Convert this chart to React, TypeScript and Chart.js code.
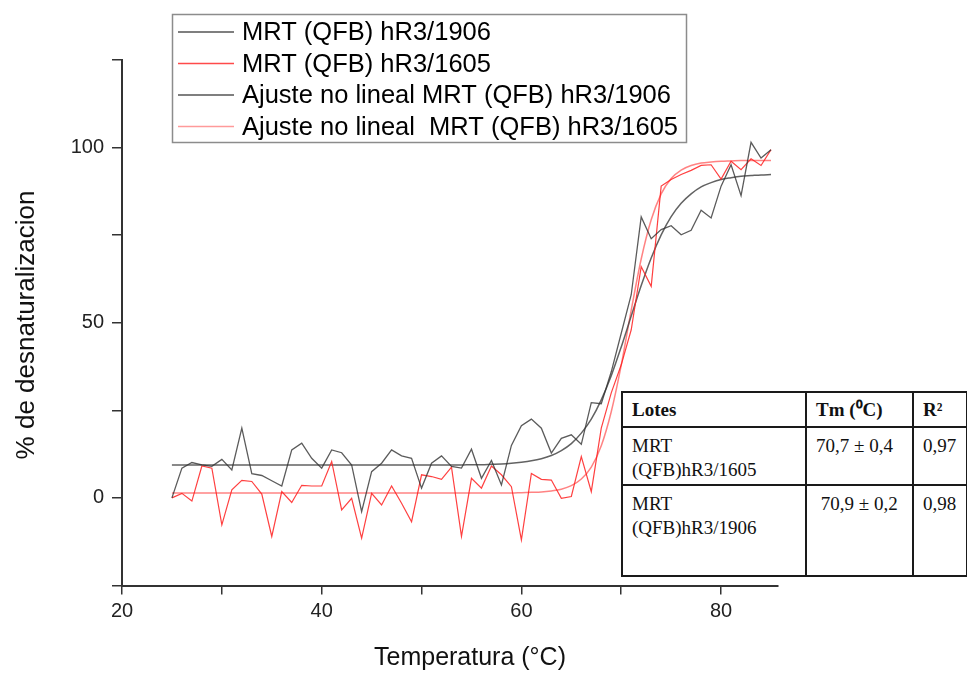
import React, { useEffect, useRef } from "react";
import { Chart, registerables } from "chart.js";

Chart.register(...registerables);

const TEMPS = [
  25, 26, 27, 28, 29, 30, 31, 32, 33, 34, 35, 36, 37, 38, 39, 40, 41, 42, 43, 44, 45,
  46, 47, 48, 49, 50, 51, 52, 53, 54, 55, 56, 57, 58, 59, 60, 61, 62, 63, 64, 65,
  66, 67, 68, 69, 70, 71, 72, 73, 74, 75, 76, 77, 78, 79, 80, 81, 82, 83, 84, 85,
];

const RAW_1906 = [
  0, 8.5, 10.1, 9.4, 9, 11, 8, 19.9, 6.9, 6.4, 4.9, 3.4, 13.7, 15.6, 11.3, 8.5, 13.7, 12.9, 9.4, -3.9, 7.5,
  9.9, 13.7, 12, 11.3, 2.8, 9.9, 12, 9, 8.5, 13.9, 5.6, 10.7, 3.7, 15, 20.6, 22.5, 19.9, 12.8, 17, 18,
  15.3, 27.2, 26.9, 36, 47, 58, 80.2, 74, 76.6, 77.7, 75.1, 76.4, 82.1, 79.9, 89, 95.1, 86.3, 101.5, 97, 99.4,
];

const RAW_1605 = [
  0, 1.3, -0.9, 9.1, 8.5, -7.7, 2.3, 5, 4.7, 1.1, -11, 1.8, -1.3, 3.6, 3.4, 3.4, 10.4, -3.4, -0.1, -11.5, 1.3,
  -2, 3.4, -1.5, -6.8, 6.6, 6.1, 5.3, 8.8, -11, 5.6, 2.8, 9.1, 6.6, 3.2, -12, 7, 5.3, 5.1, -0.1, 0.4,
  11.8, 1.8, 19.9, 30, 38, 48, 66, 60.4, 89, 90.9, 92.3, 93.5, 94.9, 95.1, 91, 96.1, 93.7, 96.8, 94.9, 99.4,
];

const FIT_1906 = [
  9.4, 9.4, 9.4, 9.4, 9.4, 9.4, 9.4, 9.4, 9.4, 9.4, 9.4, 9.4, 9.4, 9.4, 9.4, 9.4, 9.4, 9.4, 9.4, 9.4, 9.4,
  9.4, 9.4, 9.4, 9.4, 9.4, 9.4, 9.4, 9.4, 9.4, 9.5, 9.5, 9.6, 9.7, 9.9, 10.2, 10.6, 11.2, 12.1, 13.5, 15.5,
  18.5, 22.5, 28.0, 34.9, 43.1, 51.9, 60.6, 68.5, 75.1, 80.3, 84.1, 86.8, 88.8, 90.0, 90.9, 91.4, 91.8, 92.0, 92.2, 92.3,
];

const FIT_1605 = [
  1.4, 1.4, 1.4, 1.4, 1.4, 1.4, 1.4, 1.4, 1.4, 1.4, 1.4, 1.4, 1.4, 1.4, 1.4, 1.4, 1.4, 1.4, 1.4, 1.4, 1.4,
  1.4, 1.4, 1.4, 1.4, 1.4, 1.4, 1.4, 1.4, 1.4, 1.4, 1.4, 1.4, 1.4, 1.4, 1.5, 1.6, 1.7, 2.0, 2.5, 3.5,
  5.4, 8.8, 14.9, 24.6, 37.9, 53.6, 68.2, 79.4, 86.8, 91.2, 93.6, 94.9, 95.6, 95.9, 96.1, 96.2, 96.3, 96.3, 96.3, 96.3,
];

const SERIES_LABELS = [
  "MRT (QFB) hR3/1906",
  "MRT (QFB) hR3/1605",
  "Ajuste no lineal MRT (QFB) hR3/1906",
  "Ajuste no lineal  MRT (QFB) hR3/1605",
];

const X_TICKS = [20, 30, 40, 50, 60, 70, 80];
const X_LABELED = [20, 40, 60, 80];
const Y_TICKS = [-25, 0, 25, 50, 75, 100, 125];
const Y_LABELED = [0, 50, 100];

const X_TITLE = "Temperatura (°C)";
const Y_TITLE = "% de desnaturalizacion";

const TABLE_HEAD = ["Lotes", "Tm (⁰C)", "R²"];
const TABLE_LOTES = ["MRT (QFB)hR3/1605", "MRT (QFB)hR3/1906"];
const TABLE_TM = ["70,7 ± 0,4", "\u00a070,9 ± 0,2"];
const TABLE_R2 = ["0,97", "0,98"];

const SANS = '"Liberation Sans", Arial, Helvetica, sans-serif';
const SERIF = '"Liberation Serif", "Times New Roman", Times, serif';

const toPoints = (vals: number[]) => TEMPS.map((t, i) => ({ x: t, y: vals[i] }));

const legendPlugin = {
  id: "boxLegend",
  afterDraw(chart: any) {
    const ctx = chart.ctx as CanvasRenderingContext2D;
    ctx.save();
    ctx.fillStyle = "#ffffff";
    ctx.fillRect(172, 14, 514, 128);
    ctx.strokeStyle = "#8c8c8c";
    ctx.lineWidth = 1.5;
    ctx.strokeRect(172.5, 14.5, 514, 128);
    chart.data.datasets.forEach((ds: any, i: number) => {
      const y = 32 + i * 31.5;
      ctx.strokeStyle = ds.legendColor || ds.borderColor;
      ctx.lineWidth = 1.5;
      ctx.beginPath();
      ctx.moveTo(178, y);
      ctx.lineTo(234, y);
      ctx.stroke();
      ctx.fillStyle = "#000";
      ctx.font = `25.5px ${SANS}`;
      ctx.textBaseline = "middle";
      ctx.textAlign = "left";
      ctx.fillText(ds.label, 242, y + 1);
    });
    ctx.restore();
  },
};

const titlesPlugin = {
  id: "axisTitles",
  afterDraw(chart: any) {
    const ctx = chart.ctx as CanvasRenderingContext2D;
    ctx.save();
    ctx.fillStyle = "#111";
    ctx.textAlign = "center";
    ctx.textBaseline = "middle";
    ctx.font = `25px ${SANS}`;
    ctx.fillText(X_TITLE, 470, 658);
    ctx.font = `26px ${SANS}`;
    ctx.translate(27, 325);
    ctx.rotate(-Math.PI / 2);
    ctx.fillText(Y_TITLE, 0, 0);
    ctx.restore();
  },
};

function ChartCanvas() {
  const ref = useRef<HTMLCanvasElement | null>(null);
  useEffect(() => {
    if (!ref.current) return;
    const chart = new Chart(ref.current, {
      type: "line",
      data: {
        datasets: [
          {
            label: SERIES_LABELS[0],
            data: toPoints(RAW_1906),
            borderColor: "rgba(50,50,50,0.8)",
            legendColor: "#555",
            borderWidth: 1.3,
            pointRadius: 0,
            tension: 0,
          } as any,
          {
            label: SERIES_LABELS[1],
            data: toPoints(RAW_1605),
            borderColor: "rgba(255,30,30,0.85)",
            legendColor: "#ff4a4a",
            borderWidth: 1.2,
            pointRadius: 0,
            tension: 0,
          },
          {
            label: SERIES_LABELS[2],
            data: toPoints(FIT_1906),
            borderColor: "rgba(70,70,70,0.85)",
            legendColor: "#555",
            borderWidth: 1.5,
            pointRadius: 0,
            cubicInterpolationMode: "monotone",
          },
          {
            label: SERIES_LABELS[3],
            data: toPoints(FIT_1605),
            borderColor: "rgba(255,90,90,0.75)",
            legendColor: "#ff9a9a",
            borderWidth: 1.5,
            pointRadius: 0,
            cubicInterpolationMode: "monotone",
          },
        ],
      },
      options: {
        animation: false,
        responsive: false,
        devicePixelRatio: 1,
        layout: { padding: { left: 0, top: 60, right: 189, bottom: 0 } },
        plugins: {
          legend: { display: false },
          tooltip: { enabled: false },
        },
        scales: {
          x: {
            type: "linear",
            min: 20,
            max: 85.7,
            afterBuildTicks: (s: any) => {
              s.ticks = X_TICKS.map((v) => ({ value: v }));
            },
            afterFit: (s: any) => {
              s.height = 87.5;
            },
            grid: {
              drawOnChartArea: false,
              drawTicks: true,
              tickLength: 9,
              color: "#333",
              lineWidth: 1.5,
            },
            border: { display: true, color: "#333", width: 2 },
            ticks: {
              autoSkip: false,
              maxRotation: 0,
              padding: 5,
              color: "#222",
              font: { size: 20, family: SANS },
              callback: (v: any) => (X_LABELED.includes(Number(v)) ? String(v) : ""),
            },
          },
          y: {
            type: "linear",
            min: -25,
            max: 125,
            afterBuildTicks: (s: any) => {
              s.ticks = Y_TICKS.map((v) => ({ value: v }));
            },
            afterFit: (s: any) => {
              s.width = 122;
            },
            grid: {
              drawOnChartArea: false,
              drawTicks: true,
              tickLength: 10,
              color: "#333",
              lineWidth: 1.5,
            },
            border: { display: true, color: "#333", width: 2 },
            ticks: {
              autoSkip: false,
              padding: 8,
              color: "#222",
              font: { size: 20, family: SANS },
              callback: (v: any) => (Y_LABELED.includes(Number(v)) ? String(v) : ""),
            },
          },
        },
      } as any,
      plugins: [legendPlugin, titlesPlugin],
    });
    return () => chart.destroy();
  }, []);
  return <canvas ref={ref} width={967} height={673} style={{ width: 967, height: 673, display: "block" }} />;
}

const cellStyle: React.CSSProperties = {
  border: "2px solid #1a1a1a",
  padding: "6px 0 0 9px",
  verticalAlign: "top",
  lineHeight: "23.5px",
  whiteSpace: "nowrap",
};

function LotesTable() {
  return (
    <table
      style={{
        position: "absolute",
        left: 621,
        top: 391,
        width: 345,
        borderCollapse: "collapse",
        tableLayout: "fixed",
        fontFamily: SERIF,
        fontSize: 19,
        color: "#111",
        background: "#fff",
      }}
    >
      <colgroup>
        <col style={{ width: 184 }} />
        <col style={{ width: 107 }} />
        <col style={{ width: 54 }} />
      </colgroup>
      <tbody>
        <tr style={{ height: 35 }}>
          {TABLE_HEAD.map((h, i) => (
            <td key={i} style={{ ...cellStyle, fontWeight: "bold", paddingTop: 5 }}>
              {h}
            </td>
          ))}
        </tr>
        {TABLE_LOTES.map((lote, r) => {
          const parts = lote.split(" ");
          return (
            <tr key={r} style={{ height: r === 0 ? 58 : 91 }}>
              <td style={cellStyle}>
                {parts[0]}
                <br />
                {parts.slice(1).join(" ")}
              </td>
              <td style={cellStyle}>{TABLE_TM[r]}</td>
              <td style={cellStyle}>{TABLE_R2[r]}</td>
            </tr>
          );
        })}
      </tbody>
    </table>
  );
}

export default function App() {
  return (
    <div
      style={{
        position: "fixed",
        left: 0,
        top: 0,
        width: 967,
        height: 673,
        background: "#fff",
        overflow: "hidden",
      }}
    >
      <ChartCanvas />
      <LotesTable />
    </div>
  );
}
